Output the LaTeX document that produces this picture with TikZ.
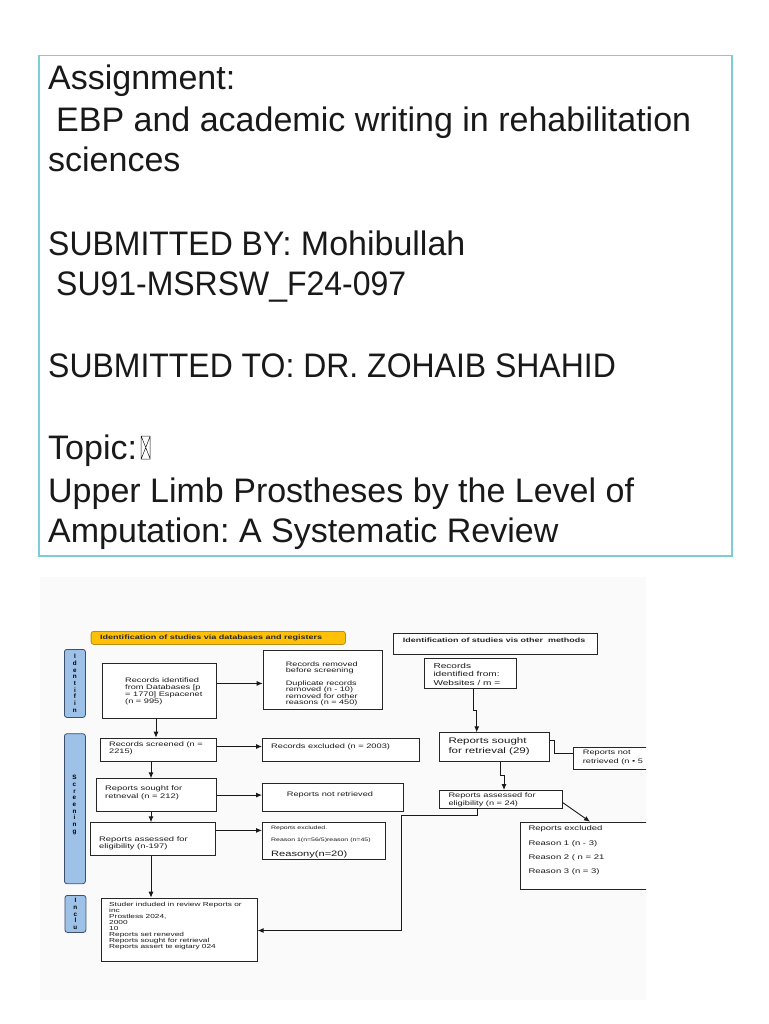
\documentclass[tikz,border=0pt]{standalone}
\usepackage{fontspec}
\setmainfont{Liberation Sans}
\newfontfamily\ff[FakeStretch=1.42]{Liberation Sans}
\newfontfamily\capsfont[FakeStretch=0.94]{Liberation Sans}
\usetikzlibrary{arrows.meta}
\definecolor{tealb}{RGB}{125,205,215}
\definecolor{hdryel}{RGB}{255,193,7}
\definecolor{hdrbd}{RGB}{185,140,20}
\definecolor{lblfill}{RGB}{158,193,232}
\definecolor{lblbd}{RGB}{60,80,110}
\definecolor{ink}{RGB}{25,25,25}
\begin{document}
\frenchspacing
\begin{tikzpicture}[x=1pt,y=-1pt,
  ttl/.style={anchor=base west, inner sep=0, font=\fontsize{34}{40}\selectfont, text=ink},
  fbox/.style={draw=black!85, line width=0.9, fill=white, anchor=north west, inner sep=0},
  tx/.style={inner sep=0, align=left, text=black!90, font=\ff\fontsize{6.5}{7.2}\selectfont},
  arr/.style={draw=black!90, line width=0.9, -{Latex[length=6pt,width=5pt]}},
  ln/.style={draw=black!90, line width=0.9},
  lbl/.style={draw=lblbd, fill=lblfill, rounded corners=2.5, line width=0.8, anchor=north west, inner sep=0},
  lbltx/.style={inner sep=0, align=center, text=black, font=\bfseries\fontsize{6.3}{6.7}\selectfont}
]
\useasboundingbox (0,0) rectangle (768,1024);
\fill[white] (0,0) rectangle (768,1024);

% ---------- title block ----------
\node[draw=tealb, line width=1.5, minimum width=693, minimum height=500, anchor=north west, inner sep=0] (titlebox) at (38,55) {};
\node[ttl] (t1) at (48,90) {Assignment:};
\node[ttl] (t2) at (56,132) {EBP and academic writing in rehabilitation};
\node[ttl] (t3) at (48,172) {sciences};
\node[ttl] (t4) at (48,255) {{\capsfont SUBMITTED BY:} Mohibullah};
\node[ttl, font=\capsfont\fontsize{34}{40}\selectfont] (t5) at (56,295) {SU91-MSRSW\_F24-097};
\node[ttl, font=\capsfont\fontsize{34}{40}\selectfont] (t6) at (48,377) {SUBMITTED TO: DR. ZOHAIB SHAHID};
\node[ttl] (t7) at (48,459) {Topic:};
\draw[ink, line width=0.5] ([xshift=4pt]t7.base east) rectangle ++(9,-23)
  ([xshift=4pt]t7.base east) -- ++(9,-23)
  ([xshift=13pt]t7.base east) -- ++(-9,-23);
\node[ttl] (t8) at (48,502) {Upper Limb Prostheses by the Level of};
\node[ttl] (t9) at (48,542) {Amputation: A Systematic Review};

% ---------- flowchart ----------
\fill[black!2] (40,577) rectangle (646,1000);
\begin{scope}
\clip (40,577) rectangle (646,1000);

% headers
\node[draw=hdrbd, fill=hdryel, rounded corners=2.5, line width=0.8, anchor=north west, inner sep=0,
      minimum width=254.3, minimum height=13] (hdrL) at (90.7,631) {};
\node[tx, anchor=west, text=black!85, font=\ff\bfseries\fontsize{6.35}{7}\selectfont] (hdrLT) at (100,637.5) {Identification of studies via databases and registers};
\node[fbox, minimum width=203.7, minimum height=21] (hdrR) at (393.3,633) {};
\node[tx, anchor=west, text=black!85, font=\ff\bfseries\fontsize{6.3}{7}\selectfont] (hdrRT) at (402.7,640.5) {Identification of studies vis other\ \ methods};

% side labels
\node[lbl, minimum width=21, minimum height=68] (lblI) at (64,649) {};
\node[lbltx] (lblIT) at (lblI.center) {I\\d\\e\\n\\t\\i\\f\\i\\n};
\node[lbl, minimum width=21, minimum height=150] (lblS) at (64,733.3) {};
\node[lbltx] (lblST) at (74.5,805) {S\\c\\r\\e\\e\\n\\i\\n\\g};
\node[lbl, minimum width=21, minimum height=37] (lblC) at (64.5,895) {};
\node[lbltx] (lblCT) at (lblC.center) {I\\n\\c\\l\\u};

% left column boxes
\node[fbox, minimum width=114.3, minimum height=55] (recid) at (101.7,663.3) {};
\node[tx, anchor=west] (recidT) at (125,691.5) {Records identified\\from Databases [p\\= 1770] Espacenet\\(n = 995)};

\node[fbox, minimum width=119, minimum height=59] (recrem) at (262.7,650) {};
\node[tx, anchor=west, font=\ff\fontsize{6.4}{6.6}\selectfont] (recremT) at (285.7,684) {Records removed\\before screening\\[5.6pt]Duplicate records\\removed (n - 10)\\removed for other\\reasons (n = 450)};

\node[fbox, minimum width=116, minimum height=23.3] (recscr) at (100,737.7) {};
\node[tx, anchor=west, font=\ff\fontsize{6.5}{6.8}\selectfont] (recscrT) at (109,748) {Records screened (n =\\2215)};

\node[fbox, minimum width=157.3, minimum height=23.3] (recexc) at (262,737.7) {};
\node[tx, anchor=west] (recexcT) at (271,746.5) {Records excluded (n = 2003)};

\node[fbox, minimum width=120.3, minimum height=32.7] (sought) at (95.7,778.3) {};
\node[tx, anchor=west, font=\ff\fontsize{6.6}{8}\selectfont] (soughtT) at (105,792.3) {Reports sought for\\retneval (n = 212)};

\node[fbox, minimum width=140.7, minimum height=27.7] (notret) at (262,783.3) {};
\node[tx, font=\ff\fontsize{6.5}{7.2}\selectfont] (notretT) at (330,794.5) {Reports not retrieved};

\node[fbox, minimum width=125, minimum height=32.7] (assess) at (90,822.3) {};
\node[tx, anchor=west, font=\ff\fontsize{6.6}{7.4}\selectfont] (assessT) at (99,843.5) {Reports assessed for\\eligibility (n-197)};

\node[fbox, minimum width=123, minimum height=37] (repexc) at (262,822.3) {};
\node[tx, anchor=base west, font=\ff\fontsize{4.9}{6}\selectfont] (repexcA) at (271,829.5) {Reports excluded.};
\node[tx, anchor=base west, font=\ff\fontsize{4.9}{6}\selectfont] (repexcB) at (271,841.7) {Reason 1(n=56/5)reason (n=45)};
\node[tx, anchor=base west, font=\ff\fontsize{7.8}{9}\selectfont, text=black!90] (repexcC) at (271,856.3) {Reasony(n=20)};

\node[fbox, minimum width=156, minimum height=63.3] (incl) at (100.7,897.7) {};
\node[tx, anchor=west, font=\ff\fontsize{5.85}{6.05}\selectfont] (inclT) at (109,925.8) {Studer induded in review Reports or\\inc\\Prostless 2024,\\2000\\10\\Reports set reneved\\Reports sought for retrieval\\Reports assert te eigtary 024};

% right column boxes
\node[fbox, minimum width=92, minimum height=30] (web) at (424.3,658.3) {};
\node[tx, anchor=west, font=\ff\fontsize{7.1}{8.2}\selectfont] (webT) at (433.3,674.3) {Records\\identified from:\\Websites / m =};

\node[fbox, minimum width=110, minimum height=28.7] (sought2) at (439.3,732.3) {};
\node[tx, anchor=west, font=\ff\fontsize{8.1}{9.3}\selectfont, text=black!90] (sought2T) at (448.3,746.5) {Reports sought\\for retrieval (29)};

\node[fbox, minimum width=110, minimum height=22.6] (notret2) at (573.3,746.7) {};
\node[tx, anchor=west, font=\ff\fontsize{6.5}{9}\selectfont] (notret2T) at (582.7,757.5) {Reports not\\retrieved (n • 5};

\node[fbox, minimum width=122.4, minimum height=17.7] (assess2) at (439.3,790) {};
\node[tx, anchor=west, font=\ff\fontsize{6.5}{7.3}\selectfont] (assess2T) at (448.3,799.8) {Reports assessed for\\eligibility (n = 24)};

\node[fbox, minimum width=140, minimum height=67.6] (repexc2) at (520,821.7) {};
\node[tx, anchor=west, font=\ff\fontsize{6.7}{14.3}\selectfont] (repexc2T) at (528.3,850.5) {Reports excluded\\Reason 1 (n - 3)\\Reason 2 ( n = 21\\Reason 3 (n = 3)};

% ---------- connectors ----------
\coordinate (sp1) at (156,0);
\coordinate (sp2) at (151,0);
\draw[arr] ([yshift=7.8pt]recid.east) -- ([yshift=7.8pt]recid.east -| recrem.west);
\draw[arr] (recid.south -| sp1) -- (recscr.north -| sp1);
\draw[arr] ([yshift=3.3pt]recscr.east) -- ([yshift=3.3pt]recscr.east -| recexc.west);
\draw[arr] (recscr.south -| sp2) -- (sought.north -| sp2);
\draw[arr] (sought.east) -- (sought.east -| notret.west);
\draw[arr] (sought.south -| sp2) -- (assess.north -| sp2);
\draw[arr] ([yshift=8.7pt]assess.east) -- ([yshift=8.7pt]assess.east -| repexc.west);
\draw[arr] (assess.south -| sp2) -- (incl.north -| sp2);

\coordinate (wA) at (473.3,710);
\coordinate (wB) at (476.7,710);
\draw[arr] (web.south -| wA) -- (wA) -- (wB) -- (sought2.north -| wB);
\coordinate (nA) at (554,740);
\coordinate (nB) at (554,753.3);
\draw[ln] (sought2.east |- nA) -- (nA) -- (nB) -- (nB -| notret2.west);
\coordinate (sA) at (500,775);
\coordinate (sB) at (504,775);
\draw[arr] (sought2.south -| sA) -- (sA) -- (sB) -- (assess2.north -| sB);
\coordinate (dA) at (590,0);
\draw[arr] ([yshift=-3.2pt]assess2.east) -- (repexc2.north -| dA);
\coordinate (eA) at (477.3,815.7);
\coordinate (eB) at (401.7,815.7);
\coordinate (eC) at (401.7,930.5);
\draw[arr] (assess2.south -| eA) -- (eA) -- (eB) -- (eC) -- (eC -| incl.east);
\end{scope}
\end{tikzpicture}
\end{document}
